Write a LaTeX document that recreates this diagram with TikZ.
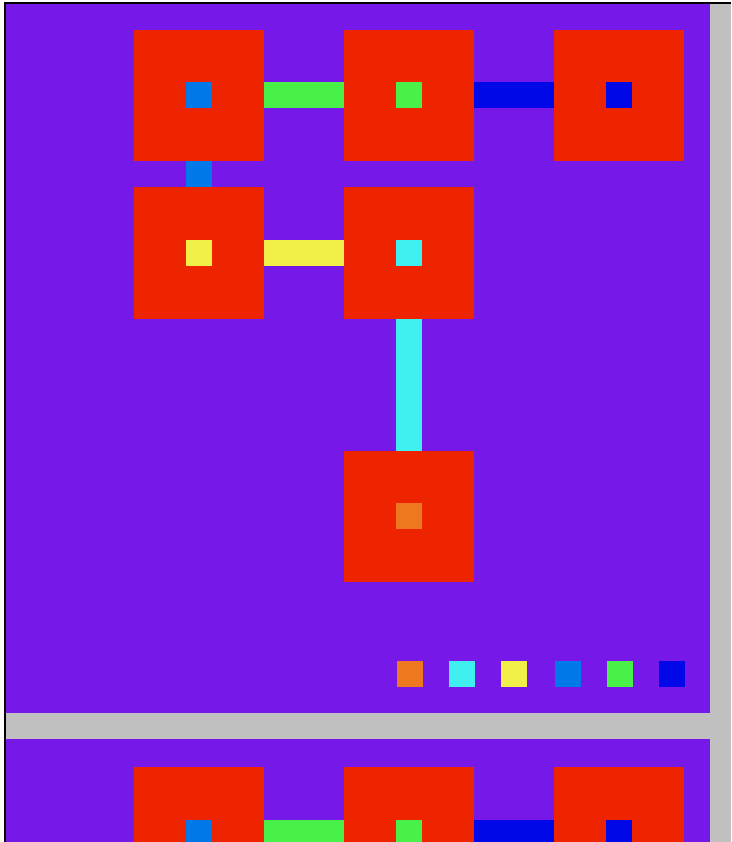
\documentclass[tikz,border=0pt]{standalone}
\definecolor{bgpurple}{RGB}{117,24,232}
\definecolor{boxred}{RGB}{238,36,0}
\definecolor{cblue}{RGB}{0,120,232}
\definecolor{cgreen}{RGB}{72,240,72}
\definecolor{cdblue}{RGB}{0,8,232}
\definecolor{cyellow}{RGB}{240,240,72}
\definecolor{ccyan}{RGB}{64,240,240}
\definecolor{corange}{RGB}{238,120,32}
\definecolor{frame}{RGB}{192,192,192}
\tikzset{
  redbox/.style={fill=boxred, draw=none, minimum width=130pt, minimum height=131pt, inner sep=0pt, outer sep=0pt},
  dot/.style={fill=#1, draw=none, minimum size=26pt, inner sep=0pt, outer sep=0pt},
  link/.style={draw=#1, line width=26pt, line cap=butt}
}
\begin{document}
\begin{tikzpicture}[x=1pt,y=-1pt]
\useasboundingbox (0,0) rectangle (731,842);
\begin{scope}
\clip (0,0) rectangle (731,842);
\fill[white] (0,0) rectangle (731,842);
\fill[black] (4,2) rectangle (731,4);
\fill[black] (4,2) rectangle (6,842);
\fill[frame] (6,4) rectangle (731,842);
\fill[bgpurple] (6,4) rectangle (710,713);
\fill[bgpurple] (6,739) rectangle (710,842);
% upper panel
\node[redbox] (r11) at (199,95.5) {};
\node[redbox] (r12) at (409,95.5) {};
\node[redbox] (r13) at (619,95.5) {};
\node[redbox] (r21) at (199,253) {};
\node[redbox] (r22) at (409,253) {};
\node[redbox] (r32) at (409,516) {};
\draw[link=cgreen] (r11.east) -- (r12.west);
\draw[link=cdblue] (r12.east) -- (r13.west);
\draw[link=cblue] (r11.south) -- (r21.north);
\draw[link=cyellow] (r21.east) -- (r22.west);
\draw[link=ccyan] (r22.south) -- (r32.north);
\node[dot=cblue] (d11) at (r11) {};
\node[dot=cgreen] (d12) at (r12) {};
\node[dot=cdblue] (d13) at (r13) {};
\node[dot=cyellow] (d21) at (r21) {};
\node[dot=ccyan] (d22) at (r22) {};
\node[dot=corange] (d32) at (r32) {};
% legend
\node[dot=corange] (l1) at (409.5,673.5) {};
\node[dot=ccyan] (l2) at (461.5,673.5) {};
\node[dot=cyellow] (l3) at (513.5,673.5) {};
\node[dot=cblue] (l4) at (567.5,673.5) {};
\node[dot=cgreen] (l5) at (619.5,673.5) {};
\node[dot=cdblue] (l6) at (671.5,673.5) {};
% lower panel (repeat)
\node[redbox] (s11) at (199,832.5) {};
\node[redbox] (s12) at (409,832.5) {};
\node[redbox] (s13) at (619,832.5) {};
\draw[link=cgreen] (s11.east) -- (s12.west);
\draw[link=cdblue] (s12.east) -- (s13.west);
\node[dot=cblue] (e11) at (s11) {};
\node[dot=cgreen] (e12) at (s12) {};
\node[dot=cdblue] (e13) at (s13) {};
\end{scope}
\end{tikzpicture}
\end{document}
